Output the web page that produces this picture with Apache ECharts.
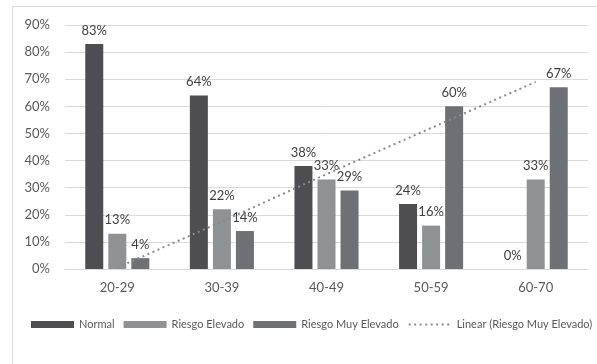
<!DOCTYPE html>
<html><head><meta charset="utf-8">
<script src="https://cdn.jsdelivr.net/npm/echarts@6/dist/echarts.min.js"></script>
<style>html,body{margin:0;padding:0;background:#fff}#c{width:597px;height:364px}</style>
</head><body><div id="c"></div>
<script>
const categories = ['20-29','30-39','40-49','50-59','60-70'];
const normal = [83, 64, 38, 24, 0];
const riesgoElevado = [13, 22, 33, 16, 33];
const riesgoMuyElevado = [4, 14, 29, 60, 67];
const trendMuyElevado = [0.5, 17.5, 35, 52, 69];
const yTicks = [0, 10, 20, 30, 40, 50, 60, 70, 80, 90];

const FONT = 'Lato';
const chart = echarts.init(document.getElementById('c'), null, {renderer: 'canvas'});
const barLabel = {show: true, position: 'top', distance: 7, formatter: '{c}%', color: '#404040', fontSize: 13, fontFamily: FONT};
chart.setOption({
  animation: false,
  backgroundColor: '#fff',
  textStyle: {fontFamily: FONT},
  graphic: [{type: 'rect', shape: {x: 12.5, y: 6.5, width: 620, height: 420}, style: {fill: 'none', stroke: '#d9d9d9', lineWidth: 1}, silent: true}],
  grid: {left: 65, right: 9, top: 25, bottom: 95},
  legend: {
    top: 314, left: 26, width: 580, itemWidth: 43, itemHeight: 7, itemGap: 9,
    textStyle: {color: '#595959', fontSize: 11, fontFamily: FONT},
    data: [
      {name: 'Normal', icon: 'rect'},
      {name: 'Riesgo Elevado', icon: 'rect'},
      {name: 'Riesgo Muy Elevado', icon: 'rect'},
      {name: 'Linear (Riesgo Muy Elevado)', itemStyle: {opacity: 0}}
    ]
  },
  xAxis: {
    type: 'category', data: categories,
    axisLine: {lineStyle: {color: '#d9d9d9', width: 1}},
    axisTick: {show: false},
    axisLabel: {color: '#595959', fontSize: 13, fontFamily: FONT, margin: 12}
  },
  yAxis: {
    type: 'value', min: yTicks[0], max: yTicks[yTicks.length - 1], interval: 10,
    axisLabel: {formatter: '{value}%', color: '#595959', fontSize: 13, fontFamily: FONT, margin: 15},
    splitLine: {lineStyle: {color: '#d9d9d9', width: 1}},
    axisLine: {show: false}, axisTick: {show: false}
  },
  series: [
    {name: 'Normal', type: 'bar', data: normal, barWidth: 18, barGap: '28%', itemStyle: {color: '#4e4e50'}, label: barLabel},
    {name: 'Riesgo Elevado', type: 'bar', data: riesgoElevado, barWidth: 18, barGap: '28%', itemStyle: {color: '#909193'}, label: barLabel},
    {name: 'Riesgo Muy Elevado', type: 'bar', data: riesgoMuyElevado, barWidth: 18, barGap: '28%', itemStyle: {color: '#6f7073'}, label: barLabel},
    {name: 'Linear (Riesgo Muy Elevado)', type: 'line', data: trendMuyElevado, symbol: 'none', z: 5,
      lineStyle: {color: '#8a8a8a', width: 2, type: [2, 3.5]}, itemStyle: {color: '#8a8a8a'}}
  ]
});
</script></body></html>
